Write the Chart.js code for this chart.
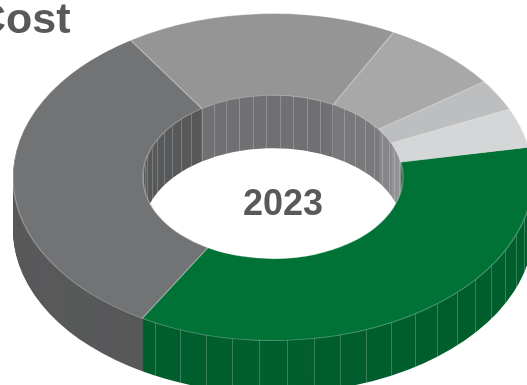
<!DOCTYPE html>
<html>
<head>
<meta charset="utf-8">
<title>Cost 2023</title>
<style>
  html, body { margin: 0; padding: 0; background: #fff; overflow: hidden; }
  #wrap { width: 527px; height: 385px; }
</style>
<script src="https://cdn.jsdelivr.net/npm/chart.js@4.4.1/dist/chart.umd.min.js"></script>
</head>
<body>
<div id="wrap"><canvas id="costChart" width="527" height="385"></canvas></div>
<script>
// --- Data ---
const categories = ['Category 1', 'Category 2', 'Category 3', 'Category 4', 'Category 5', 'Category 6'];
const costShares = [36.3, 32.4, 16.9, 7.4, 3.1, 3.9];
const chartTitle = 'Cost';
const yearLabel = '2023';

// --- Styles ---
const topColors  = ['#007236', '#727374', '#959595', '#a8a8a9', '#bdbebf', '#d5d6d7'];
const wallColors = ['#005f2e', '#58595a', '#707173', '#797a7c', '#86878a', '#939497'];
const facetOnOuterWall = [true, false, false, false, false, false];
const textColor = '#58595b';
const fontFamily = '"Liberation Sans", Arial, Helvetica, sans-serif';

// 3D projection of the ring (centre, radii and wall height in px)
const CX = 273, CY = 177, RX = 260, RY = 163.5, DEPTH = 53;
const FACET_STEP = 6; // degrees between the thin lines on the walls

function tilt(ctx, arc, drop) {
    ctx.translate(CX, CY + drop);
    ctx.scale(RX / arc.outerRadius, RY / arc.outerRadius);
    ctx.translate(-arc.x, -arc.y);
}

// which slice covers angle t (radians, canvas orientation)
function sliceAt(arcs, t) {
    const full = Math.PI * 2;
    for (let i = 0; i < arcs.length; i++) {
        let s = arcs[i].startAngle, e = arcs[i].endAngle;
        let x = t;
        while (x < s) x += full;
        while (x >= s + full) x -= full;
        if (x >= s && x < e) return i;
    }
    return -1;
}

const ringPlugin = {
    id: 'ring3d',
    beforeDatasetsDraw(chart) {
        const ctx = chart.ctx;
        const arcs = chart.getDatasetMeta(0).data;
        const ref = arcs[0];
        const inner = ref.innerRadius / ref.outerRadius;

        // side walls: stack the ring downwards, darker colours
        for (let d = DEPTH; d >= 1; d--) {
            ctx.save();
            tilt(ctx, ref, d);
            arcs.forEach(function(arc, i) {
                const o = arc.options;
                const bg = o.backgroundColor, bw = o.borderWidth;
                o.backgroundColor = wallColors[i];
                o.borderWidth = 0;
                arc.draw(ctx);
                o.backgroundColor = bg;
                o.borderWidth = bw;
            });
            ctx.restore();
        }

        // thin facet lines on the walls
        ctx.save();
        ctx.strokeStyle = 'rgba(255,255,255,0.22)';
        ctx.lineWidth = 1;
        ctx.beginPath();
        for (let a = 3; a < 360; a += FACET_STEP) {
            const t = a * Math.PI / 180;
            const front = Math.sin(t) > 0;
            if (front && !facetOnOuterWall[sliceAt(arcs, t)]) continue;
            const s = front ? 1 : inner; // front: outer wall, back: inner wall
            const x = Math.round(CX + RX * s * Math.cos(t)) + 0.5;
            const y = CY + RY * s * Math.sin(t);
            ctx.moveTo(x, y);
            ctx.lineTo(x, y + DEPTH);
        }
        ctx.stroke();
        ctx.restore();

        // top face is drawn by Chart.js itself under this transform
        ctx.save();
        tilt(ctx, ref, 0);
    },
    afterDatasetsDraw(chart) {
        const ctx = chart.ctx;
        ctx.restore();

        ctx.save();
        ctx.fillStyle = textColor;
        ctx.textBaseline = 'alphabetic';
        ctx.font = 'bold 36px ' + fontFamily;
        ctx.textAlign = 'center';
        ctx.fillText(yearLabel, 283, 215);
        ctx.font = 'bold 43px ' + fontFamily;
        ctx.textAlign = 'left';
        ctx.fillText(chartTitle, -25, 33);
        ctx.restore();
    }
};

new Chart(document.getElementById('costChart'), {
    type: 'doughnut',
    data: {
        labels: categories,
        datasets: [{
            data: costShares,
            backgroundColor: topColors,
            borderColor: 'rgba(255,255,255,0.3)',
            borderWidth: 1,
            clip: false
        }]
    },
    options: {
        responsive: false,
        animation: false,
        events: [],
        cutout: '50%',
        rotation: 79.5,
        layout: { padding: 10 },
        plugins: {
            legend: { display: false },
            tooltip: { enabled: false },
            title: { display: false }
        }
    },
    plugins: [ringPlugin]
});
</script>
</body>
</html>
